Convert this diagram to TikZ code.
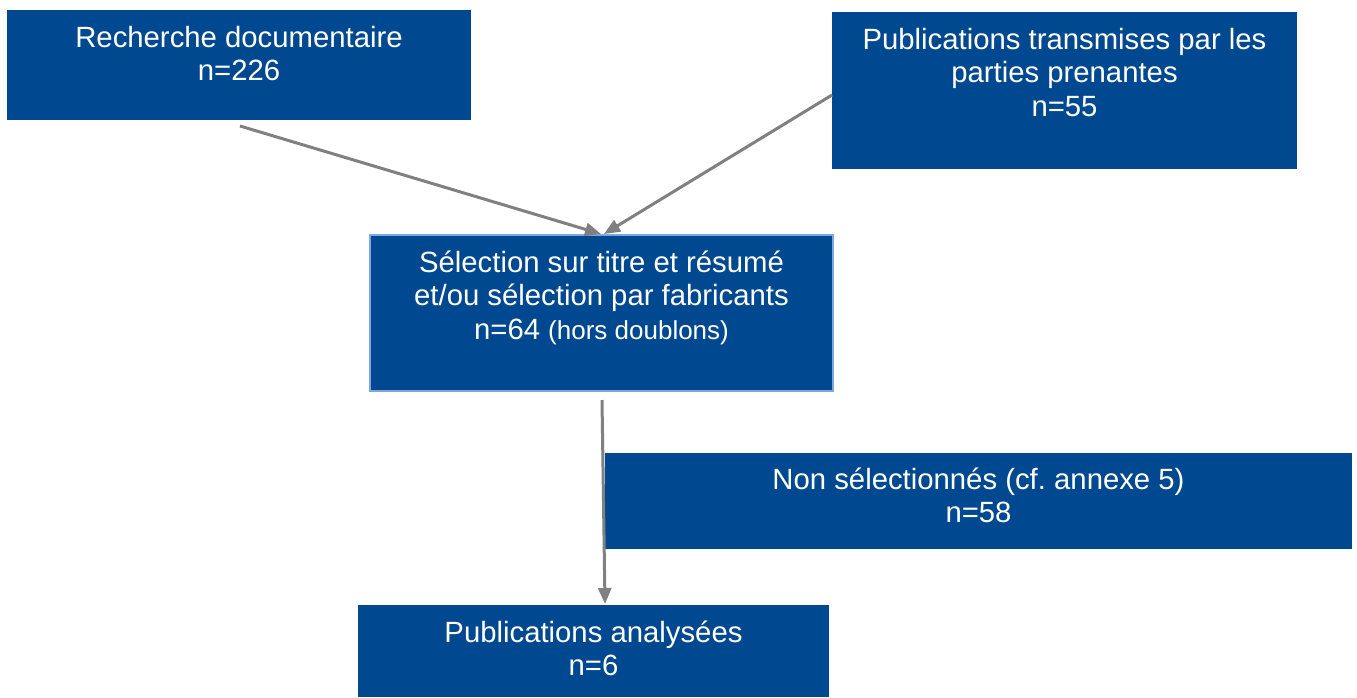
\documentclass[tikz,border=0pt]{standalone}
\usepackage{fontspec}
\setmainfont{Liberation Sans}
\usetikzlibrary{arrows.meta,calc}
\definecolor{boxblue}{RGB}{0,73,144}
\definecolor{edgeblue}{RGB}{125,168,222}
\definecolor{arrowgrey}{RGB}{128,128,128}
\newcommand{\firstline}{\rule{0pt}{28pt}}
\frenchspacing
\begin{document}
\begin{tikzpicture}[x=1pt,y=-1pt,
  box/.style={fill=boxblue, draw=none, anchor=north west, inner sep=0pt, outer sep=0pt},
  txt/.style={text=white, anchor=north, inner sep=0pt, align=center,
              font=\fontsize{29.3}{33.5}\selectfont},
  conn/.style={draw=arrowgrey, line width=3pt,
               -{Triangle[length=16pt,width=13pt]}}]
\useasboundingbox (0,0) rectangle (1357,697);

\node[box, minimum width=464pt, minimum height=110pt] (b1) at (7,10) {};
\node[box, minimum width=465pt, minimum height=157pt] (b2) at (832,12) {};
\node[box, minimum width=463pt, minimum height=156pt, draw=edgeblue, line width=1.2pt] (b3) at (370,235) {};
\node[box, minimum width=747pt, minimum height=96pt] (b4) at (605,453) {};
\node[box, minimum width=471pt, minimum height=92pt] (b5) at (358,605) {};

\node[txt] (t1) at ($(b1.north)+(0,9)$) {\firstline Recherche documentaire\\n=226};
\node[txt] (t2) at ($(b2.north)+(0,9)$) {\firstline Publications transmises par les\\parties prenantes\\n=55};
\node[txt] (t3) at ($(b3.north)+(0,9)$) {\firstline Sélection sur titre et résumé\\et/ou sélection par fabricants\\n=64 {\fontsize{26}{33.5}\selectfont (hors doublons)}};
\node[txt] (t4) at ($(b4.north)+(0,8)$) {\firstline Non sélectionnés (cf. annexe 5)\\n=58};
\node[txt] (t5) at ($(b5.north)+(0,9)$) {\firstline Publications analysées\\n=6};

\coordinate (s1) at ($(b1.south west)+(233,6)$);
\coordinate (e1) at ($(b3.north west)+(231,-1)$);
\coordinate (s2) at ($(b2.north west)+(0,83)$);
\coordinate (e2) at ($(b3.north west)+(234,-1)$);
\coordinate (s3) at ($(b3.south west)+(232,9)$);
\coordinate (e3) at ($(b5.north west)+(247,-1)$);

\draw[conn] (s1) -- (e1);
\draw[conn] (s2) -- (e2);
\draw[conn] (s3) -- (e3);
\end{tikzpicture}
\end{document}
